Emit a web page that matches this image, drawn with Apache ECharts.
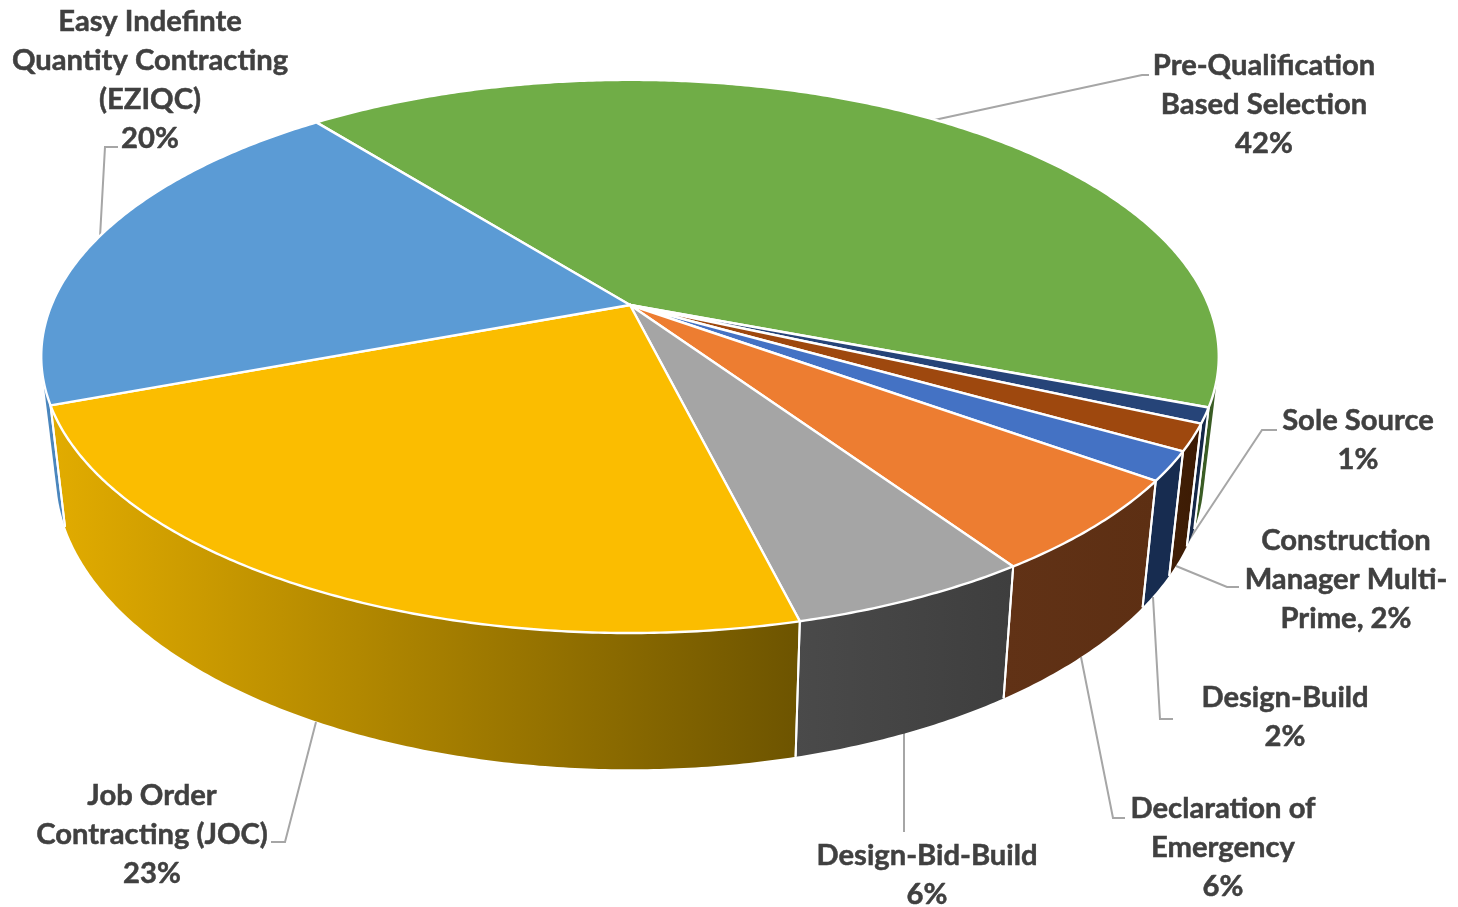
<!DOCTYPE html>
<html>
<head>
<meta charset="utf-8">
<style>html,body{margin:0;padding:0;background:#fff}#c{width:1458px;height:907px}</style>
<script src="https://cdn.jsdelivr.net/npm/echarts@6/dist/echarts.min.js"></script>
</head>
<body>
<div id="c"></div>
<script>
// Data, clockwise from the first slice
const categories = ['Pre-Qualification Based Selection','Sole Source','Construction Manager Multi-Prime','Design-Build','Declaration of Emergency','Design-Bid-Build','Job Order Contracting (JOC)','Easy Indefinte Quantity Contracting (EZIQC)'];
const values = [41.5, 0.9, 1.55, 1.7, 5.55, 5.6, 23.15, 20.05];
const labelTexts = ['Pre-Qualification\nBased Selection\n42%','Sole Source\n1%','Construction\nManager Multi-\nPrime, 2%','Design-Build\n2%','Declaration of\nEmergency\n6%','Design-Bid-Build\n6%','Job Order\nContracting (JOC)\n23%','Easy Indefinte\nQuantity Contracting\n(EZIQC)\n20%'];

// Styles
const topColors = ['#70ad47','#264478','#9e480e','#4472c4','#ed7d31','#a5a5a5','#fbbd00','#5b9bd5'];
const wallFrom = ['#3e6327','#152848','#401e06','#172c50','#613216','#4a4a4a','#e2ac00','#4a86bd'];
const wallTo   = ['#3a5c24','#152848','#3c1b04','#172c50','#5d2f13','#3e3e3e','#6d5400','#4a86bd'];

// Layout
const startAngle = -38.4;
const apex = [630, 305];
const persp = 0.186, scaleX = 578.5, scaleY = 267;
const wallX = 0.975, wallY = 1.065, wallBase = 420;
const labelCenters = [[1264,105],[1358,440],[1346,579.5],[1285,717],[1223,848],[927,875],[152,834.5],[150,80]];
const leaders = [
  [[925,122],[1142,75],[1149,75]],
  [[1187,543],[1262,430],[1277,430]],
  [[1176,566],[1227,587],[1239,587]],
  [[1153,597],[1160,719],[1173,719]],
  [[1081,657],[1113,818],[1125,818]],
  [[904,733],[904,832]],
  [[316,722],[285,842],[271,842]],
  [[100,237],[105,147],[118,147]]
];

const total = values.reduce((a,b)=>a+b,0);
const starts = [];
values.reduce((acc,v,i)=>{starts[i]=acc;return acc+v;},0);
const ang = s => startAngle + s/total*360;

function rimTop(deg){
  const t = deg*Math.PI/180, u = Math.sin(t), v = Math.cos(t), w = 1+persp*v;
  return [apex[0]+scaleX*u/w, apex[1]-scaleY*v/w];
}
function rimBottom(deg){
  const p = rimTop(deg);
  return [apex[0]+wallX*(p[0]-apex[0]), wallBase+wallY*(p[1]-apex[1])];
}
function arc(fn,a,b){
  const n = Math.max(2,Math.ceil(Math.abs(b-a)/0.5)), pts=[];
  for(let i=0;i<=n;i++) pts.push(fn(a+(b-a)*i/n));
  return pts;
}
function hull(points){
  const p = points.slice().sort((a,b)=>a[0]-b[0]||a[1]-b[1]);
  const cross=(o,a,b)=>(a[0]-o[0])*(b[1]-o[1])-(a[1]-o[1])*(b[0]-o[0]);
  const lo=[],up=[];
  for(const q of p){while(lo.length>1&&cross(lo[lo.length-2],lo[lo.length-1],q)<=0)lo.pop();lo.push(q);}
  for(const q of p.slice().reverse()){while(up.length>1&&cross(up[up.length-2],up[up.length-1],q)<=0)up.pop();up.push(q);}
  return lo.slice(0,-1).concat(up.slice(0,-1));
}
const idx = values.map((v,i)=>[i,v]);

function renderWall(params,api){
  const i = api.value(0), a = ang(starts[i]), b = a+api.value(1)/total*360;
  const t = arc(rimTop,a,b), bt = arc(rimBottom,a,b);
  const back = (i===0||i===values.length-1);   // these walls wrap round the silhouette
  const z2 = back?0:1;
  const outline = back ? hull(t.concat(bt)) : t.concat(bt.slice().reverse());
  return {type:'group',children:[
    {type:'polygon',z2,shape:{points:outline},
     style:{fill:{type:'linear',x:0,y:0,x2:1,y2:0,colorStops:[{offset:0,color:wallFrom[i]},{offset:1,color:wallTo[i]}]}}},
    {type:'polyline',z2:z2+1,shape:{points:[t[0],bt[0]]},style:{stroke:'#fff',lineWidth:2,fill:'none'}},
    {type:'polyline',z2:z2+1,shape:{points:[t[t.length-1],bt[bt.length-1]]},style:{stroke:'#fff',lineWidth:2,fill:'none'}}
  ]};
}
function renderTop(params,api){
  const i = api.value(0), a = ang(starts[i]), b = a+api.value(1)/total*360;
  return {type:'polygon',shape:{points:[apex].concat(arc(rimTop,a,b))},
    style:{fill:topColors[i],stroke:'#fff',lineWidth:2.4,lineJoin:'round'}};
}
function renderLabel(params,api){
  const i = api.value(0);
  return {type:'group',children:[
    {type:'polyline',shape:{points:leaders[i]},style:{stroke:'#a6a6a6',lineWidth:2,fill:'none'}},
    {type:'text',style:{text:labelTexts[i],x:labelCenters[i][0],y:labelCenters[i][1],align:'center',verticalAlign:'middle',
      fill:'#404040',stroke:'#404040',lineWidth:0.5,fontFamily:'Lato',fontWeight:'bold',fontSize:29.2,lineHeight:39}}
  ]};
}
const chart = echarts.init(document.getElementById('c'),null,{renderer:'canvas'});
chart.setOption({
  animation:false,backgroundColor:'#fff',
  series:[
    {type:'custom',coordinateSystem:'none',renderItem:renderLabel,data:idx,silent:true,z:1},
    {type:'custom',coordinateSystem:'none',renderItem:renderWall,data:idx,silent:true,z:2},
    {type:'custom',coordinateSystem:'none',renderItem:renderTop,data:idx,silent:true,z:3}
  ]
});
</script>
</body>
</html>
